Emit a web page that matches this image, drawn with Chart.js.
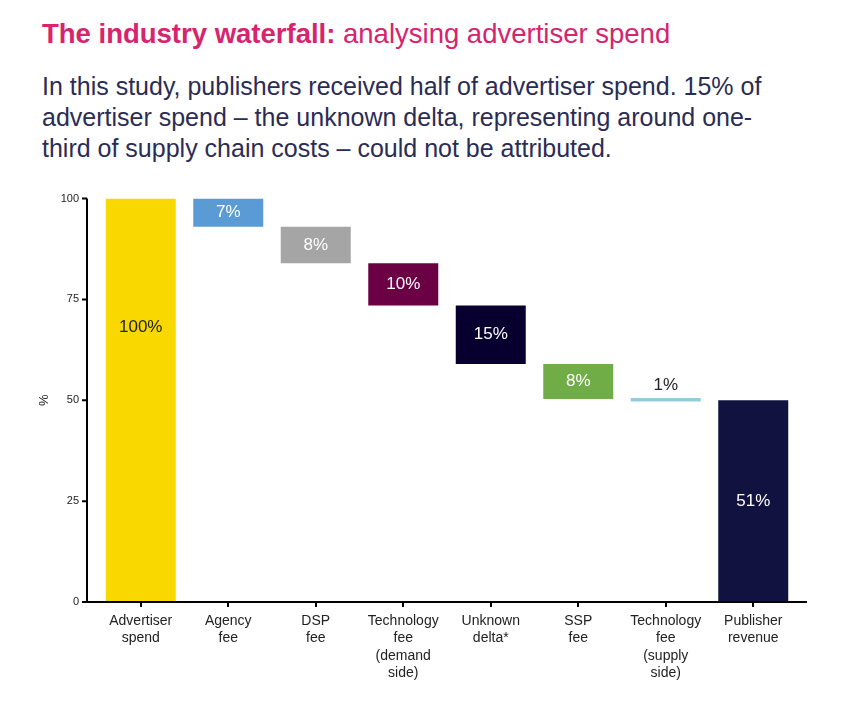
<!DOCTYPE html>
<html>
<head>
<meta charset="utf-8">
<script src="https://cdn.jsdelivr.net/npm/chart.js@4.4.0/dist/chart.umd.min.js"></script>
<style>
  body { margin: 0; width: 856px; height: 717px; background: #fff; position: relative; overflow: hidden;
         font-family: "Liberation Sans", Arial, sans-serif; }
  #title { position: absolute; left: 42px; top: 18px; font-size: 27.5px; line-height: 32px; color: #d6246e; white-space: nowrap; }
  #sub { position: absolute; left: 42px; top: 71px; font-size: 25px; line-height: 31px; color: #2b2c55; white-space: nowrap; }
  #wrap { position: absolute; left: 0; top: 174px; width: 856px; height: 543px; }
</style>
</head>
<body>
<div id="title"><b>The industry waterfall:</b> analysing advertiser spend</div>
<div id="sub">In this study, publishers received half of advertiser spend. 15% of<br>advertiser spend – the unknown delta, representing around one-<br>third of supply chain costs – could not be attributed.</div>
<div id="wrap"><canvas id="chart"></canvas></div>
<script>
// categories (multi-line axis labels)
const categories = [
  ['Advertiser', 'spend'],
  ['Agency', 'fee'],
  ['DSP', 'fee'],
  ['Technology', 'fee', '(demand', 'side)'],
  ['Unknown', 'delta*'],
  ['SSP', 'fee'],
  ['Technology', 'fee', '(supply', 'side)'],
  ['Publisher', 'revenue']
];
// floating bar bottoms and tops (%)
const barStart = [0, 93, 84, 73.5, 59, 50.3, 49.7, 0];
const barEnd = [100, 100, 93, 84, 73.5, 59, 50.6, 50];
const valueLabels = ['100%', '7%', '8%', '10%', '15%', '8%', '1%', '51%'];
const yTicks = [0, 25, 50, 75, 100];

const barColours = ['#f9d800', '#5b9bd5', '#a5a5a5', '#6c0045', '#07002e', '#70ad47', '#92cddc', '#121240'];
const labelColours = ['#222222', '#ffffff', '#ffffff', '#ffffff', '#ffffff', '#ffffff', '#222222', '#ffffff'];

// axis lines sit a little left of the first category, like the original
const axisLines = {
  id: 'axisLines',
  afterDraw(chart) {
    const ctx = chart.ctx, a = chart.chartArea, y = chart.scales.y;
    const x0 = a.left - 10;
    ctx.save();
    ctx.strokeStyle = '#000';
    ctx.lineWidth = 2;
    ctx.beginPath();
    ctx.moveTo(x0, a.top);
    ctx.lineTo(x0, a.bottom + 1);
    ctx.moveTo(x0 - 1, a.bottom);
    ctx.lineTo(a.right + 10, a.bottom);
    y.ticks.forEach(t => {
      const py = y.getPixelForValue(t.value);
      ctx.moveTo(x0 - 5, py);
      ctx.lineTo(x0, py);
    });
    ctx.stroke();
    ctx.restore();
  }
};

// value labels on the bars
const barLabels = {
  id: 'barLabels',
  afterDatasetsDraw(chart) {
    const ctx = chart.ctx, y = chart.scales.y;
    const meta = chart.getDatasetMeta(0);
    ctx.save();
    ctx.font = '17px "Liberation Sans", Arial, sans-serif';
    ctx.textAlign = 'center';
    ctx.textBaseline = 'middle';
    meta.data.forEach((bar, i) => {
      let py = (bar.y + bar.base) / 2;
      if (i === 0) py = y.getPixelForValue(68);
      if (Math.abs(bar.base - bar.y) < 8) py = Math.min(bar.y, bar.base) - 13;
      ctx.fillStyle = labelColours[i];
      ctx.fillText(valueLabels[i], bar.x, py);
    });
    ctx.restore();
  }
};

const ctx = document.getElementById('chart').getContext('2d');
new Chart(ctx, {
  type: 'bar',
  data: {
    labels: categories,
    datasets: [{
      data: barStart.map((s, i) => [s, barEnd[i]]),
      backgroundColor: barColours,
      borderWidth: 0,
      categoryPercentage: 1,
      barPercentage: 0.8
    }]
  },
  options: {
    responsive: true,
    maintainAspectRatio: false,
    animation: false,
    layout: { padding: { top: 13, right: 59, left: 0, bottom: 0 } },
    plugins: { legend: { display: false }, tooltip: { enabled: false } },
    scales: {
      x: {
        afterFit: s => { s.height = 115; },
        border: { display: false },
        grid: { display: true, drawOnChartArea: false, drawTicks: true, tickLength: 5, offset: false, color: '#000', lineWidth: 2 },
        ticks: { color: '#222', padding: 5, maxRotation: 0, autoSkip: false,
                 font: { family: '"Liberation Sans", Arial, sans-serif', size: 14, lineHeight: 1.25 } }
      },
      y: {
        min: 0, max: 100,
        afterFit: s => { s.width = 97; },
        afterBuildTicks: s => { s.ticks = yTicks.map(v => ({ value: v })); },
        border: { display: false },
        grid: { display: false, drawTicks: false },
        ticks: { color: '#222', padding: 18, font: { family: '"Liberation Sans", Arial, sans-serif', size: 11 } },
        title: { display: true, text: '%', color: '#222', padding: { top: 37, bottom: 0 },
                 font: { family: '"Liberation Sans", Arial, sans-serif', size: 13 } }
      }
    }
  },
  plugins: [axisLines, barLabels]
});
</script>
</body>
</html>
